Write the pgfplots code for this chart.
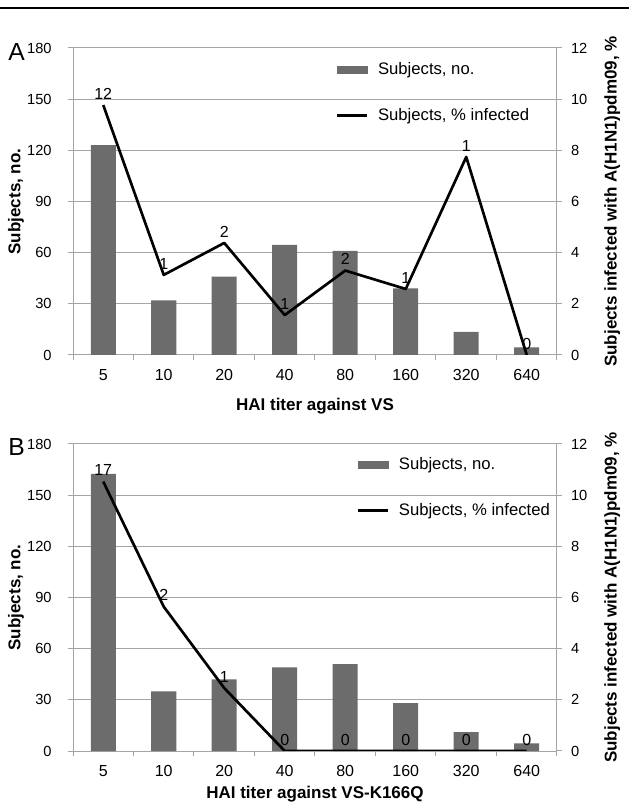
\documentclass[border=0pt]{standalone}
\usepackage{fontspec}
\setmainfont{Liberation Sans}
\usepackage{pgfplots}
\pgfplotsset{compat=1.18}

\definecolor{bargray}{RGB}{108,108,108}
\definecolor{gridgray}{RGB}{165,165,165}

% 1 px of the reference = 0.75pt
\pgfplotsset{
  panel/.style={
    scale only axis, width=363pt, height=230.25pt,
    xmin=-0.5, xmax=7.5,
    anchor=south west,
    font=\fontsize{12}{14}\selectfont,
    /pgf/number format/assume math mode=true,
    tick align=outside, major tick length=4pt,
    tick style={gridgray, line width=0.75pt},
    axis line style={gridgray, line width=0.75pt},
    label style={font=\fontsize{12.75}{15}\selectfont\bfseries},
    yticklabel style={font=\fontsize{11}{13}\selectfont},
  },
  barpanel/.style={
    panel,
    ymin=0, ymax=180, ytick={0,30,...,180},
    axis x line*=bottom, axis y line*=left,
    ymajorgrids, grid style={gridgray, line width=0.75pt},
    xtick={-0.5,0.5,...,7.5}, xticklabels={},
    extra x ticks={0,...,7},
    extra x tick labels={5,10,20,40,80,160,320,640},
    extra x tick style={major tick length=0pt},
    xticklabel style={yshift=-7pt},
    yticklabel style={xshift=-8.5pt},
    ylabel={Subjects, no.},
    ylabel style={at={(axis description cs:-0.118,0.5)}, anchor=center},
  },
  linepanel/.style={
    panel,
    ymin=0, ymax=12, ytick={0,2,...,12},
    axis y line*=right, axis x line=none,
    yticklabel style={xshift=3pt},
    ylabel={Subjects infected with A(H1N1)pdm09, \%},
    ylabel style={at={(axis description cs:1.114,0.5)}, anchor=center},
    legend cell align=left,
    legend style={draw=none, fill=none, inner sep=0pt,
      font=\fontsize{12.5}{14}\selectfont, row sep=20pt,
      /tikz/every odd column/.append style={column sep=5pt}},
  },
  pct/.style={black, line width=2pt, line join=round,
    nodes near coords, point meta=explicit symbolic,
    every node near coord/.append style={font=\fontsize{12}{14}\selectfont, black},
    legend image code/.code={\draw[black, line width=2pt] (0pt,0pt) -- (22.5pt,0pt);}},
}

\begin{document}
\begin{tikzpicture}
\useasboundingbox (0,0) rectangle (471.75pt,603.75pt);
\draw[black, line width=1.7pt] (0,597.75pt) -- (471.75pt,597.75pt);

% ---------- panel A ----------
\begin{axis}[barpanel, at={(54.75pt,337.5pt)},
  xlabel={HAI titer against VS},
  xlabel style={at={(axis description cs:0.5,-0.166)}, anchor=center}]
\addplot[ybar, bar width=18.75pt, bar shift=0pt, fill=bargray, draw=none]
  coordinates {(0,123) (1,32) (2,46) (3,64.5) (4,61) (5,39) (6,13.5) (7,4.5)};
\end{axis}
\begin{axis}[linepanel, at={(54.75pt,337.5pt)},
  legend style={at={(0.543,0.962)}, anchor=north west}]
\addlegendimage{legend image code/.code={\fill[bargray] (0pt,-2.8pt) rectangle (22.5pt,2.8pt);}}
\addlegendentry{Subjects, no.}
\addplot[pct] coordinates {
  (0,9.77) [12] (1,3.13) [1] (2,4.38) [2] (3,1.56) [1]
  (4,3.30) [2] (5,2.58) [1] (6,7.74) [1] (7,0) [0]};
\addlegendentry{Subjects, \% infected}
\end{axis}
\node[font=\fontsize{18.5}{22}\selectfont] at (12.5pt,565.1pt) {A};

% ---------- panel B ----------
\begin{axis}[barpanel, at={(54.75pt,40.5pt)},
  xlabel={HAI titer against VS-K166Q},
  xlabel style={at={(axis description cs:0.5,-0.140)}, anchor=center}]
\addplot[ybar, bar width=18.75pt, bar shift=0pt, fill=bargray, draw=none]
  coordinates {(0,162.5) (1,35) (2,42) (3,49) (4,51) (5,28) (6,11) (7,4.5)};
\end{axis}
\begin{axis}[linepanel, at={(54.75pt,40.5pt)},
  legend style={at={(0.586,0.965)}, anchor=north west}]
\addlegendimage{legend image code/.code={\fill[bargray] (0pt,-2.8pt) rectangle (22.5pt,2.8pt);}}
\addlegendentry{Subjects, no.}
\addplot[pct] coordinates {
  (0,10.53) [17] (1,5.64) [2] (2,2.46) [1] (3,0) [0]
  (4,0) [0] (5,0) [0] (6,0) [0] (7,0) [0]};
\addlegendentry{Subjects, \% infected}
\end{axis}
\node[font=\fontsize{18.5}{22}\selectfont] at (12.5pt,268.5pt) {B};
\end{tikzpicture}
\end{document}
